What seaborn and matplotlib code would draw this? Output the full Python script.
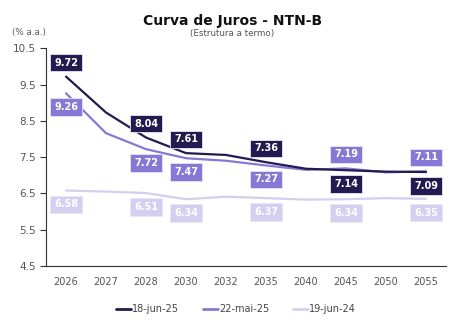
import numpy as np
import pandas as pd
import matplotlib
matplotlib.use("Agg")
import matplotlib.pyplot as plt
import seaborn as sns

# Vencimentos (anos) e taxas por data de referência
anos = ["2026", "2027", "2028", "2030", "2032", "2035", "2040", "2045", "2050", "2055"]
jun25 = [9.72, 8.73, 8.04, 7.61, 7.56, 7.36, 7.18, 7.14, 7.10, 7.09]
mai25 = [9.26, 8.16, 7.72, 7.47, 7.40, 7.27, 7.15, 7.19, 7.08, 7.11]
jun24 = [6.58, 6.55, 6.51, 6.34, 6.41, 6.37, 6.33, 6.34, 6.37, 6.35]
series = ["18-jun-25", "22-mai-25", "19-jun-24"]
cores = ["#231b50", "#8878d6", "#d4cef0"]

# Rótulos exibidos apenas em alguns vencimentos (+1 acima, -1 abaixo)
rotulos_idx = [0, 2, 3, 5, 7, 9]
pos_jun25 = [1, 1, 1, 1, -1, -1]
pos_mai25 = [-1, -1, -1, -1, 1, 1]
pos_jun24 = [-1, -1, -1, -1, -1, -1]

df = pd.DataFrame({
    "x": list(range(len(anos))) * 3,
    "taxa": jun25 + mai25 + jun24,
    "serie": [s for s in series for _ in anos],
})

sns.set_theme(style="white")
plt.rcParams["font.family"] = ["DejaVu Sans"]

fig = plt.figure(figsize=(4.72, 3.22), dpi=100)
ax = fig.add_axes([0.0975, 0.174, 0.8475, 0.676])

sns.lineplot(data=df, x="x", y="taxa", hue="serie", hue_order=series[::-1],
             palette=dict(zip(series, cores)), linewidth=1.6, ax=ax, legend=False)

for valores, pos, cor in [(jun24, pos_jun24, cores[2]), (mai25, pos_mai25, cores[1]),
                          (jun25, pos_jun25, cores[0])]:
    for i, p in zip(rotulos_idx, pos):
        ax.annotate(f"{valores[i]:.2f}", (i, valores[i]), xytext=(0, 10 * p),
                    textcoords="offset points", ha="center", va="center",
                    fontsize=7, fontweight="bold", color="white",
                    bbox=dict(boxstyle="square,pad=0.38", fc=cor, ec="#e8e6f2", lw=0.6),
                    zorder=5)

ax.set_xlim(-0.5, len(anos) - 0.5)
ax.set_ylim(4.5, 10.5)
ax.set_yticks(np.arange(4.5, 10.6, 1.0))
ax.set_yticklabels([f"{v:.1f}" for v in np.arange(4.5, 10.6, 1.0)])
ax.set_xticks(np.arange(-0.5, len(anos), 1.0))
ax.set_xticklabels([])
ax.set_xticks(range(len(anos)), minor=True)
ax.set_xticklabels(anos, minor=True)
ax.tick_params(axis="x", which="major", length=4, width=0.8, color="#333333", direction="out")
ax.tick_params(axis="x", which="minor", length=0, pad=8, labelsize=7, labelcolor="#555555")
ax.tick_params(axis="y", length=4, width=0.8, color="#333333", direction="out",
               labelsize=7.5, labelcolor="#555555", left=True)
ax.set_xlabel("")
ax.set_ylabel("")
for s in ["top", "right"]:
    ax.spines[s].set_visible(False)
for s in ["left", "bottom"]:
    ax.spines[s].set_color("#333333")
    ax.spines[s].set_linewidth(0.8)

fig.text(0.492, 0.935, "Curva de Juros - NTN-B", ha="center", va="center",
         fontsize=10, fontweight="bold", color="#111111")
fig.text(0.492, 0.897, "(Estrutura a termo)", ha="center", va="center",
         fontsize=6.3, color="#555555")
fig.text(0.025, 0.9, "(% a.a.)", ha="left", va="center", fontsize=6.3, color="#555555")

handles = [plt.Line2D([0], [0], color=c, lw=2) for c in cores]
fig.legend(handles, series, loc="center", bbox_to_anchor=(0.5, 0.04), ncol=3,
           frameon=False, fontsize=7, handlelength=1.6, handletextpad=0.1,
           columnspacing=2.4, labelcolor="#444444")

fig.savefig("out.png", dpi=100, facecolor="white")
